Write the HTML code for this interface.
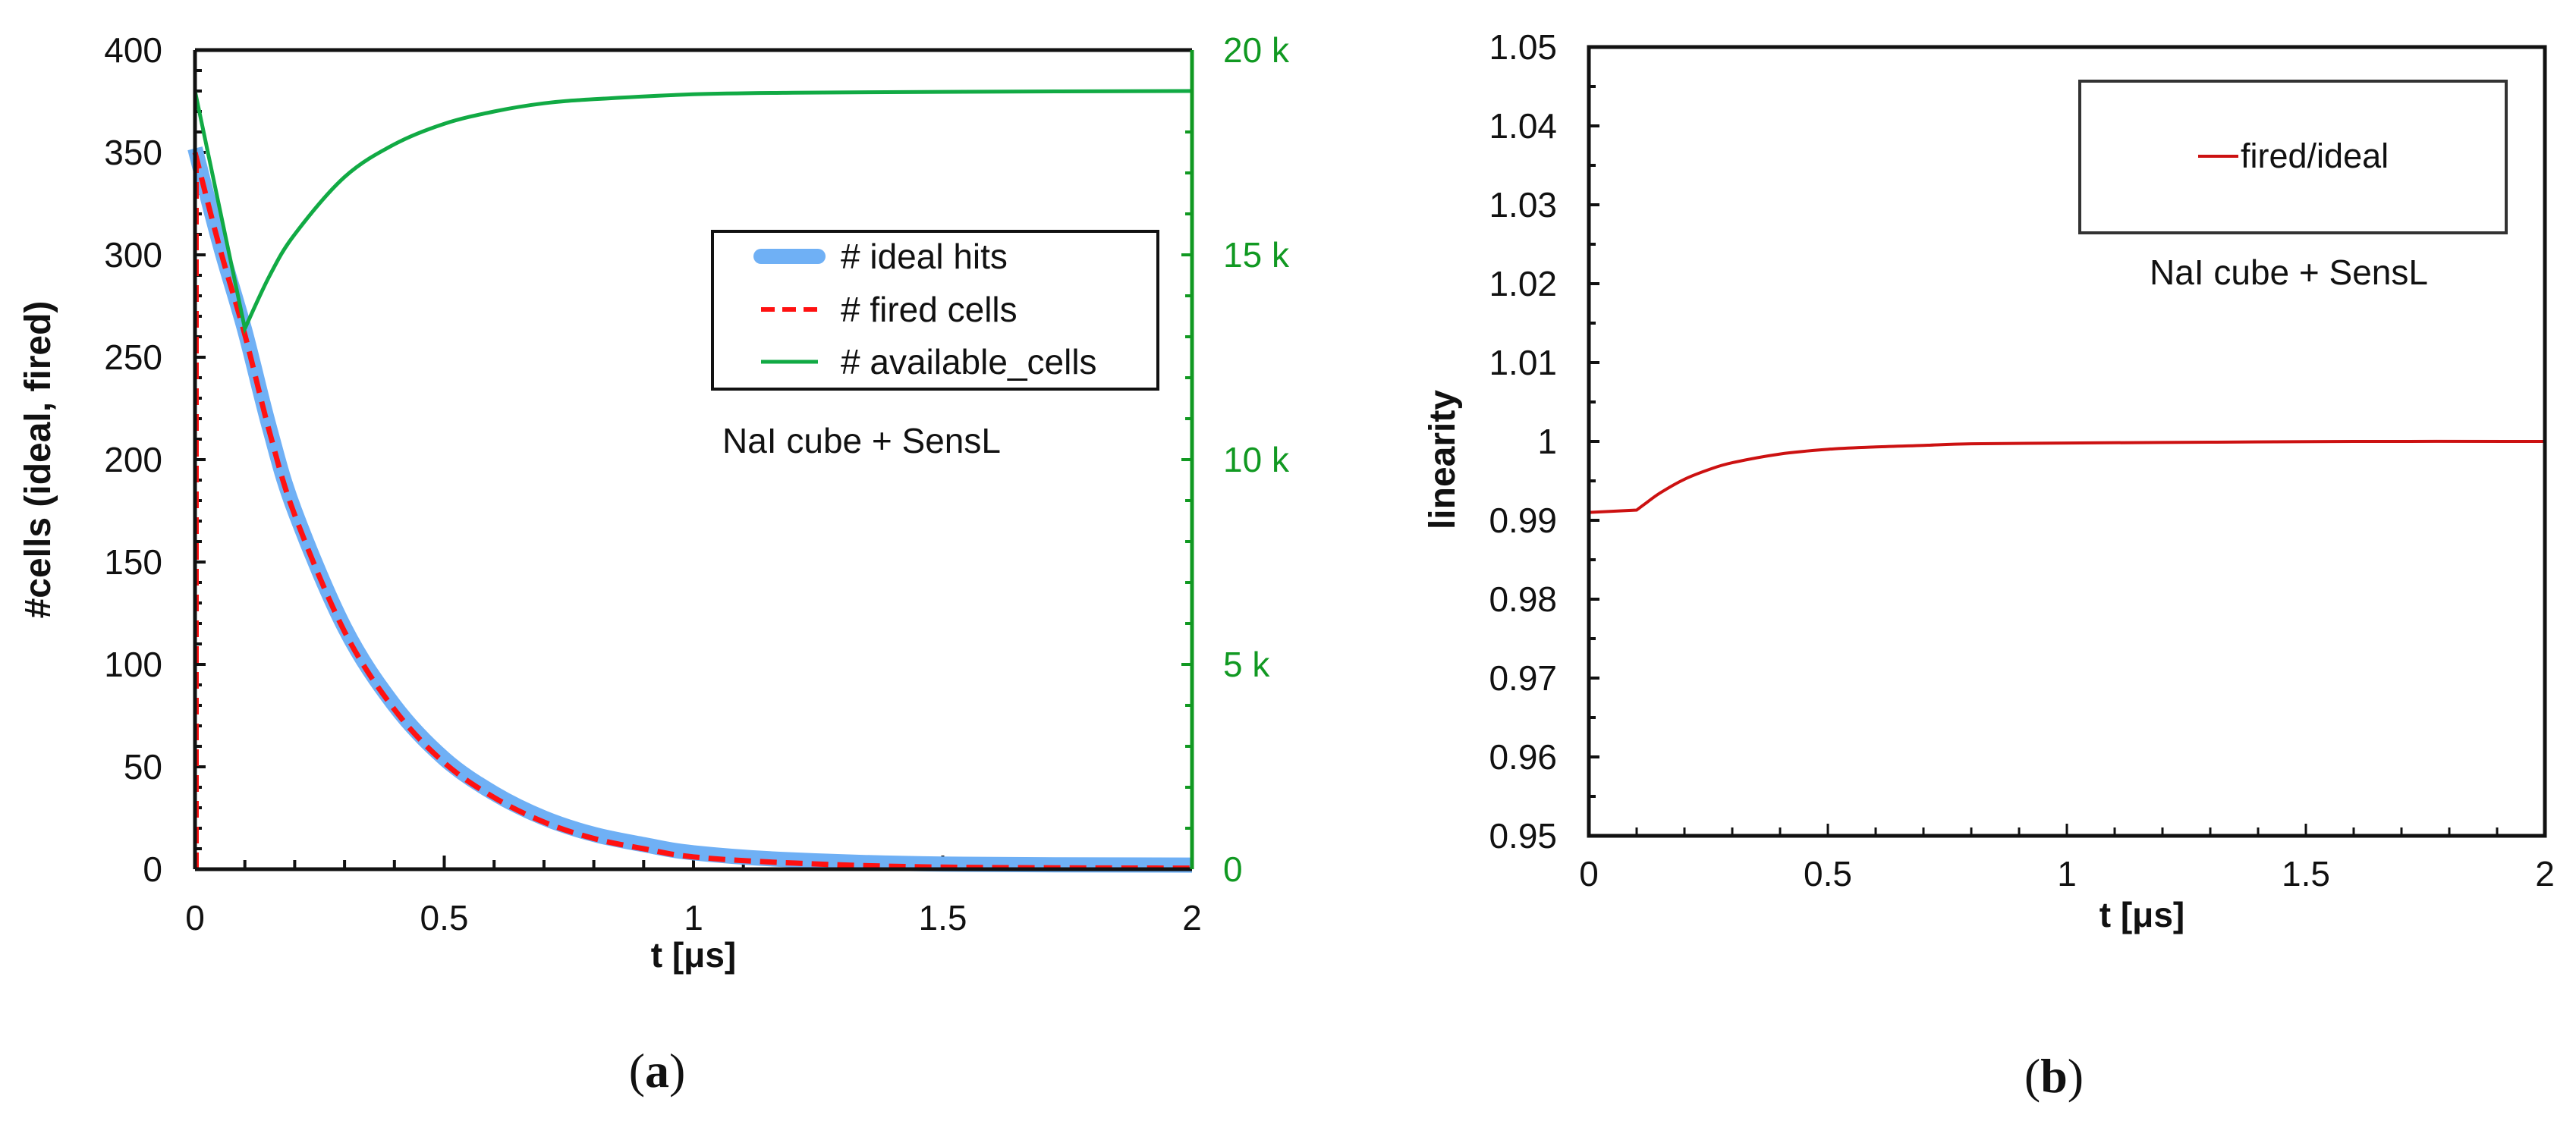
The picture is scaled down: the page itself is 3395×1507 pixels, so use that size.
<!DOCTYPE html>
<html><head><meta charset="utf-8"><style>
html,body{margin:0;padding:0;background:#fff;}
svg{display:block;}
text{font-family:"Liberation Sans Narrow","Liberation Sans",sans-serif;}
</style></head><body>
<svg id="fig" width="3395" height="1507" viewBox="0 0 3395 1507" xmlns="http://www.w3.org/2000/svg">
<g id="pa"></g>
<g id="pb"></g>
</svg>
<script>
// Panel (a) data
const tA = [0, 0.05, 0.1, 0.15, 0.2, 0.3, 0.4, 0.5, 0.6, 0.7, 0.8, 0.9, 1.0, 1.2, 1.5, 2.0];
const idealHits = [352, 305, 263, 215, 175, 118, 80, 54, 37, 25, 17, 12, 8, 4.5, 2.5, 2];
const firedCells = [350, 303, 261, 213, 173, 116, 78, 52, 35, 23, 15, 10, 6, 3, 1, 0.5];
const tAvail = [0, 0.1, 0.15, 0.2, 0.3, 0.4, 0.5, 0.6, 0.7, 0.8, 1.0, 1.2, 1.5, 2.0];
const availCells = [19.0, 13.2, 14.5, 15.5, 16.9, 17.7, 18.2, 18.5, 18.7, 18.8, 18.92, 18.96, 18.98, 19.0];
const leftTicks = [0, 50, 100, 150, 200, 250, 300, 350, 400];
const rightTicks = [0, 5, 10, 15, 20];
const xTicks = [0, 0.5, 1, 1.5, 2];
// Panel (b) data
const tLin = [0, 0.1, 0.12, 0.15, 0.2, 0.25, 0.3, 0.4, 0.5, 0.6, 0.7, 0.8, 1.0, 1.3, 1.6, 2.0];
const linearity = [0.991, 0.9913, 0.9922, 0.9935, 0.9952, 0.9964, 0.9973, 0.9984, 0.999, 0.9993, 0.9995, 0.9997, 0.9998, 0.9999, 1.0, 1.0];
const linTicks = [0.95, 0.96, 0.97, 0.98, 0.99, 1, 1.01, 1.02, 1.03, 1.04, 1.05];
const linTickLabels = ["0.95","0.96","0.97","0.98","0.99","1","1.01","1.02","1.03","1.04","1.05"];

const NS = "http://www.w3.org/2000/svg";
function mk(parent, tag, attrs, txt) {
  const e = document.createElementNS(NS, tag);
  for (const k in attrs) e.setAttribute(k, attrs[k]);
  if (txt !== undefined) e.textContent = txt;
  parent.appendChild(e);
  return e;
}
// smooth Catmull-Rom path; segments before index `straightUntil` drawn straight
function smoothD(xs, ys, fx, fy, straightUntil) {
  const P = xs.map((x, i) => [fx(x), fy(ys[i])]);
  let d = "M" + P[0][0].toFixed(1) + "," + P[0][1].toFixed(1);
  const s = straightUntil || 0;
  for (let i = 0; i < P.length - 1; i++) {
    if (i < s) { d += " L" + P[i+1][0].toFixed(1) + "," + P[i+1][1].toFixed(1); continue; }
    const p0 = (i - 1 >= s) ? P[i-1] : P[i];
    const p1 = P[i], p2 = P[i+1];
    const p3 = P[i+2] || P[i+1];
    const c1 = [p1[0] + (p2[0]-p0[0])/6, p1[1] + (p2[1]-p0[1])/6];
    const c2 = [p2[0] - (p3[0]-p1[0])/6, p2[1] - (p3[1]-p1[1])/6];
    d += " C" + c1[0].toFixed(1) + "," + c1[1].toFixed(1) + " " + c2[0].toFixed(1) + "," + c2[1].toFixed(1) + " " + p2[0].toFixed(1) + "," + p2[1].toFixed(1);
  }
  return d;
}

// ---------- Panel A ----------
const pa = document.getElementById("pa");
const ax = { l: 257, r: 1571, t: 66, b: 1146 };
const xA = t => ax.l + (t / 2) * (ax.r - ax.l);
const yL = v => ax.b - (v / 400) * (ax.b - ax.t);
const yR = v => ax.b - (v / 20) * (ax.b - ax.t);

for (let v = 0; v <= 400; v += 10) {
  const tk = mk(pa, "line", { x1: ax.l, x2: ax.l + (v % 50 === 0 ? 14 : 9), y1: yL(v), y2: yL(v), stroke: "#111", "stroke-width": 4 });
  
  
}
for (let v = 0; v <= 20; v += 1) {
  const tk = mk(pa, "line", { x1: ax.r, x2: ax.r - (v % 5 === 0 ? 14 : 9), y1: yR(v), y2: yR(v), stroke: "#119922", "stroke-width": 4 });
  
  
}
for (let i = 0; i <= 20; i++) {
  const t = i / 10;
  const tk = mk(pa, "line", { x1: xA(t), x2: xA(t), y1: ax.b, y2: ax.b - (i % 5 === 0 ? 18 : 12), stroke: "#111", "stroke-width": 4 });
  
  
}
leftTicks.forEach(v => {
  const tx = mk(pa, "text", { x: 214, y: yL(v) + 16, "font-size": 46, "text-anchor": "end", fill: "#111" }, String(v));
  
  
});
rightTicks.forEach(v => {
  const tx = mk(pa, "text", { x: 1612, y: yR(v) + 16, "font-size": 46, fill: "#119922" }, v === 0 ? "0" : v + " k");
  
  
});
xTicks.forEach(v => {
  const tx = mk(pa, "text", { x: xA(v), y: 1226, "font-size": 46, "text-anchor": "middle", fill: "#111" }, String(v));
  
  
});

const blue = mk(pa, "path", { d: smoothD(tA, idealHits, xA, yL, 0), fill: "none", stroke: "#6fb0f5", "stroke-width": 20, "stroke-linejoin": "round" });


const redV = mk(pa, "line", { x1: xA(0) + 2, x2: xA(0) + 2, y1: yL(0), y2: yL(firedCells[0]), stroke: "#ff1111", "stroke-width": 6, "stroke-dasharray": "22 12" });


const red = mk(pa, "path", { d: smoothD(tA, firedCells, xA, yL, 0), fill: "none", stroke: "#ff1111", "stroke-width": 7, "stroke-dasharray": "22 12" });


const green = mk(pa, "path", { d: smoothD(tAvail, availCells, xA, yR, 1), fill: "none", stroke: "#11aa44", "stroke-width": 5, "stroke-linejoin": "miter" });



let f = mk(pa, "line", { x1: ax.l, x2: ax.r, y1: ax.t, y2: ax.t, stroke: "#111", "stroke-width": 5 });
 
f = mk(pa, "line", { x1: ax.l, x2: ax.r, y1: ax.b, y2: ax.b, stroke: "#111", "stroke-width": 5 });
 
f = mk(pa, "line", { x1: ax.l, x2: ax.l, y1: ax.t, y2: ax.b, stroke: "#111", "stroke-width": 5 });
 
f = mk(pa, "line", { x1: ax.r, x2: ax.r, y1: ax.t, y2: ax.b, stroke: "#119922", "stroke-width": 5 });
 

const lg = mk(pa, "g", {});
 
mk(lg, "rect", { x: 939, y: 305, width: 587, height: 208, fill: "#fff", stroke: "#111", "stroke-width": 4 });
let le = mk(lg, "line", { x1: 1003, x2: 1078, y1: 338, y2: 338, stroke: "#6fb0f5", "stroke-width": 20, "stroke-linecap": "round" });
 
le = mk(lg, "line", { x1: 1003, x2: 1078, y1: 408, y2: 408, stroke: "#ff1111", "stroke-width": 6, "stroke-dasharray": "18 10" });
 
le = mk(lg, "line", { x1: 1003, x2: 1078, y1: 477, y2: 477, stroke: "#11aa44", "stroke-width": 5 });
 
[["# ideal hits", 354], ["# fired cells", 424], ["# available_cells", 493]].forEach(([s, y]) => {
  const tx = mk(lg, "text", { x: 1108, y: y, "font-size": 46, fill: "#111" }, s);
   
});
let an = mk(pa, "text", { x: 952, y: 597, "font-size": 46, fill: "#111" }, "NaI cube + SensL");
 
an = mk(pa, "text", { x: ax.l + (ax.r - ax.l) / 2, y: 1275, "font-size": 46, "font-weight": "bold", "text-anchor": "middle", fill: "#111" }, "t [μs]");
 
an = mk(pa, "text", { x: 0, y: 0, "font-size": 48, "font-weight": "bold", "text-anchor": "middle", fill: "#111", transform: "translate(66,606) rotate(-90)" }, "#cells (ideal, fired)");
 
an = mk(pa, "text", { x: 866, y: 1433, "font-size": 64, "text-anchor": "middle", fill: "#111", style: "font-family:'Liberation Serif',serif" }, "");
 
mk(an, "tspan", {}, "(");
mk(an, "tspan", { "font-weight": "bold" }, "a");
mk(an, "tspan", {}, ")");

// ---------- Panel B ----------
const pb = document.getElementById("pb");
const bx = { l: 2094, r: 3354, t: 62, b: 1102 };
const xB = t => bx.l + (t / 2) * (bx.r - bx.l);
const yB = v => bx.b - ((v - 0.95) / 0.1) * (bx.b - bx.t);
for (let i = 0; i <= 20; i++) {
  const v = 0.95 + i * 0.005;
  const tk = mk(pb, "line", { x1: bx.l, x2: bx.l + (i % 2 === 0 ? 14 : 9), y1: yB(v), y2: yB(v), stroke: "#111", "stroke-width": 4 });
   
}
for (let i = 0; i <= 20; i++) {
  const t = i / 10;
  const tk = mk(pb, "line", { x1: xB(t), x2: xB(t), y1: bx.b, y2: bx.b - (i % 5 === 0 ? 16 : 11), stroke: "#111", "stroke-width": 3 });
   
}
linTicks.forEach((v, i) => {
  const tx = mk(pb, "text", { x: 2052, y: yB(v) + 16, "font-size": 46, "text-anchor": "end", fill: "#111" }, linTickLabels[i]);
   
});
xTicks.forEach(v => {
  const tx = mk(pb, "text", { x: xB(v), y: 1168, "font-size": 46, "text-anchor": "middle", fill: "#111" }, String(v));
   
});
const lin = mk(pb, "path", { d: smoothD(tLin, linearity, xB, yB, 1), fill: "none", stroke: "#cc1111", "stroke-width": 4 });
 
f = mk(pb, "rect", { x: bx.l, y: bx.t, width: bx.r - bx.l, height: bx.b - bx.t, fill: "none", stroke: "#111", "stroke-width": 5 });
 
const lg2 = mk(pb, "g", {});
 
mk(lg2, "rect", { x: 2741, y: 107, width: 562, height: 200, fill: "#fff", stroke: "#333", "stroke-width": 4 });
le = mk(lg2, "line", { x1: 2897, x2: 2950, y1: 206, y2: 206, stroke: "#cc1111", "stroke-width": 4 });
 
le = mk(lg2, "text", { x: 2953, y: 221, "font-size": 45, fill: "#111" }, "fired/ideal");
 
an = mk(pb, "text", { x: 2833, y: 375, "font-size": 46, fill: "#111" }, "NaI cube + SensL");
 
an = mk(pb, "text", { x: 2823, y: 1222, "font-size": 46, "font-weight": "bold", "text-anchor": "middle", fill: "#111" }, "t [μs]");
 
an = mk(pb, "text", { x: 0, y: 0, "font-size": 48, "font-weight": "bold", "text-anchor": "middle", fill: "#111", transform: "translate(1917,606) rotate(-90)" }, "linearity");
 
an = mk(pb, "text", { x: 2707, y: 1440, "font-size": 64, "text-anchor": "middle", fill: "#111", style: "font-family:'Liberation Serif',serif" }, "");
 
mk(an, "tspan", {}, "(");
mk(an, "tspan", { "font-weight": "bold" }, "b");
mk(an, "tspan", {}, ")");
</script>
</body></html>
